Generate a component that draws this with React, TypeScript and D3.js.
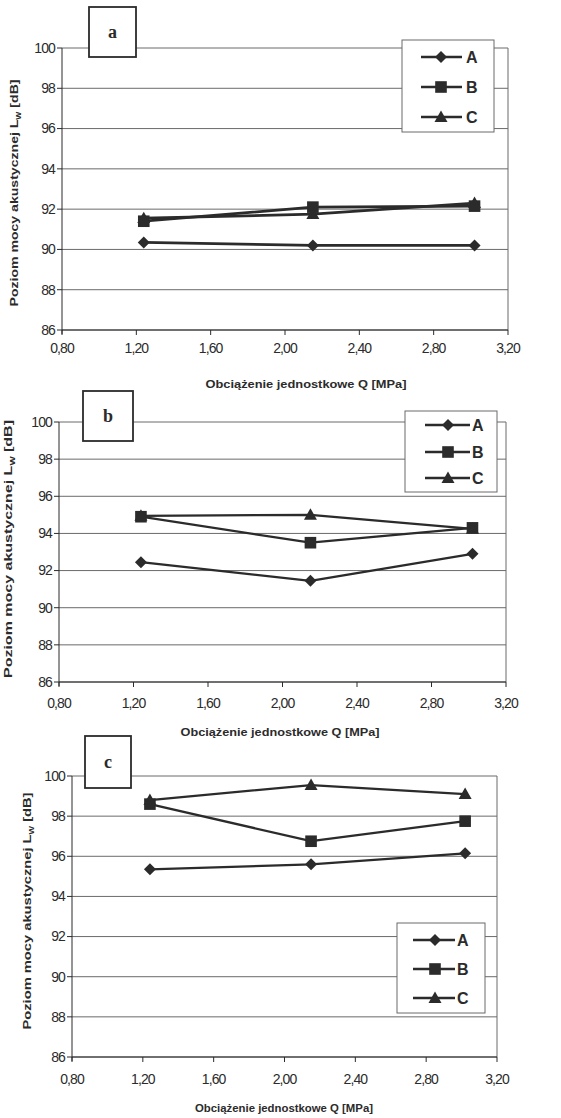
import React from "react";
import * as d3 from "d3";

const xValues = [1.24, 2.15, 3.02];
const xTicks = [0.8, 1.2, 1.6, 2.0, 2.4, 2.8, 3.2];
const yTicks = [86, 88, 90, 92, 94, 96, 98, 100];
const seriesNames = ["A", "B", "C"];
const panelLetters = ["a", "b", "c"];

const aA = [90.35, 90.2, 90.2];
const aB = [91.4, 92.1, 92.15];
const aC = [91.55, 91.75, 92.3];
const bA = [92.45, 91.45, 92.9];
const bB = [94.9, 93.5, 94.3];
const bC = [94.95, 95.0, 94.25];
const cA = [95.35, 95.6, 96.15];
const cB = [98.6, 96.75, 97.75];
const cC = [98.8, 99.55, 99.1];

const xTitle = "Obciążenie jednostkowe Q [MPa]";

const panelData = [
  [aA, aB, aC],
  [bA, bB, bC],
  [cA, cB, cC],
];

const layouts = [
  {
    left: 62, right: 508, top: 48, bottom: 330, tickY: 353, titleX: 306, titleY: 388, titleW: 201,
    yLabX: 18, yLabY: 193, yLabW: 227,
    box: { x: 89, y: 7, w: 47, h: 50 },
    legend: { x: 402, y: 40, w: 92, h: 92, l1: 421, l2: 462, m: 441, t: 466, rows: [57, 87, 117] },
    sw: 2.8,
  },
  {
    left: 59, right: 506, top: 422, bottom: 682, tickY: 708, titleX: 280, titleY: 736, titleW: 199,
    yLabX: 12, yLabY: 549, yLabW: 258,
    box: { x: 83, y: 391, w: 50, h: 50 },
    legend: { x: 405, y: 411, w: 92, h: 81, l1: 425, l2: 470, m: 448, t: 472, rows: [425, 452, 478] },
    sw: 2.3,
  },
  {
    left: 72, right: 497, top: 776, bottom: 1057, tickY: 1084, titleX: 284, titleY: 1112, titleW: 178,
    yLabX: 31, yLabY: 911, yLabW: 237,
    box: { x: 85, y: 736, w: 46, h: 52 },
    legend: { x: 397, y: 923, w: 88, h: 90, l1: 413, l2: 455, m: 435, t: 457, rows: [940, 969, 998] },
    sw: 2.3,
  },
];

const INK = "#2b2b2b";
const GRID = "#6a6a6a";

function Marker({ kind, x, y }: { kind: number; x: number; y: number }) {
  if (kind === 0) {
    const s = 6;
    return <path d={`M${x},${y - s}L${x + s},${y}L${x},${y + s}L${x - s},${y}Z`} fill={INK} />;
  }
  if (kind === 1) {
    const s = 5.8;
    return <rect x={x - s} y={y - s} width={2 * s} height={2 * s} fill={INK} />;
  }
  const s = 6.5;
  return <path d={`M${x},${y - s}L${x + s},${y + s * 0.75}L${x - s},${y + s * 0.75}Z`} fill={INK} />;
}

function Panel({ idx }: { idx: number }) {
  const L = layouts[idx];
  const data = panelData[idx];
  const x = d3.scaleLinear().domain([0.8, 3.2]).range([L.left, L.right]);
  const y = d3.scaleLinear().domain([86, 100]).range([L.bottom, L.top]);
  const line = d3
    .line<number>()
    .x((_, i) => x(xValues[i]))
    .y((d) => y(d));
  const fmt = (v: number) => v.toFixed(2).replace(".", ",");
  const lg = L.legend;
  return (
    <g>
      {yTicks.map((t) => (
        <line key={"g" + t} x1={L.left} x2={L.right} y1={y(t)} y2={y(t)} stroke={GRID} strokeWidth={1} />
      ))}
      <line x1={L.right} x2={L.right} y1={L.top} y2={L.bottom} stroke={GRID} strokeWidth={1} />
      <line x1={L.left} x2={L.left} y1={L.top} y2={L.bottom + 4} stroke={INK} strokeWidth={1} />
      <line x1={L.left} x2={L.right} y1={L.bottom} y2={L.bottom} stroke={INK} strokeWidth={1} />
      {yTicks.map((t) => (
        <g key={"yt" + t}>
          <line x1={L.left - 5} x2={L.left} y1={y(t)} y2={y(t)} stroke={INK} />
          <text x={L.left - 7} y={y(t)} dy="0.35em" textAnchor="end" fontSize={14} fill={INK}
            fontFamily="Liberation Sans, Arial, sans-serif" letterSpacing={-0.9}>
            {t}
          </text>
        </g>
      ))}
      {xTicks.map((t) => (
        <g key={"xt" + t}>
          <line x1={x(t)} x2={x(t)} y1={L.bottom} y2={L.bottom + 5} stroke={INK} />
          <text x={x(t)} y={L.tickY} textAnchor="middle" fontSize={14} fill={INK}
            fontFamily="Liberation Sans, Arial, sans-serif" letterSpacing={-0.9}>
            {fmt(t)}
          </text>
        </g>
      ))}
      <text x={L.titleX} y={L.titleY} textAnchor="middle" fontSize={11} fontWeight="bold" fill={INK}
        fontFamily="Liberation Sans, Arial, sans-serif" textLength={L.titleW} lengthAdjust="spacingAndGlyphs">
        {xTitle}
      </text>
      <text transform={`translate(${L.yLabX},${L.yLabY}) rotate(-90)`} textAnchor="middle" fontSize={11.5}
        fontWeight="bold" fill={INK} fontFamily="Liberation Sans, Arial, sans-serif"
        textLength={L.yLabW} lengthAdjust="spacingAndGlyphs">
        Poziom mocy akustycznej L<tspan fontSize={7} dy={3}>W</tspan>
        <tspan dy={-3}>{"  [dB]"}</tspan>
      </text>
      {data.map((s, si) => (
        <g key={"s" + si}>
          <path d={line(s) || ""} fill="none" stroke={INK} strokeWidth={L.sw} strokeLinejoin="round" />
          {s.map((v, i) => (
            <Marker key={i} kind={si} x={x(xValues[i])} y={y(v)} />
          ))}
        </g>
      ))}
      <rect x={L.box.x} y={L.box.y} width={L.box.w} height={L.box.h} fill="#fff" stroke={INK} strokeWidth={1.8} />
      <text x={L.box.x + L.box.w / 2} y={L.box.y + L.box.h / 2} dy="0.35em" textAnchor="middle" fontSize={18}
        fontWeight="bold" fill={INK} fontFamily="Liberation Serif, Times New Roman, serif">
        {panelLetters[idx]}
      </text>
      <rect x={lg.x} y={lg.y} width={lg.w} height={lg.h} fill="#fff" stroke={GRID} strokeWidth={1} />
      {seriesNames.map((n, si) => (
        <g key={"l" + n}>
          <line x1={lg.l1} x2={lg.l2} y1={lg.rows[si]} y2={lg.rows[si]} stroke={INK} strokeWidth={2.4} />
          <Marker kind={si} x={lg.m} y={lg.rows[si]} />
          <text x={lg.t} y={lg.rows[si]} dy="0.36em" fontSize={16} fontWeight="bold" fill={INK}
            fontFamily="Liberation Sans, Arial, sans-serif">
            {n}
          </text>
        </g>
      ))}
    </g>
  );
}

export default function App() {
  return (
    <svg width={561} height={1118} style={{ position: "absolute", left: 0, top: 0, background: "#fff" }}>
      <rect x={0} y={0} width={561} height={1118} fill="#fff" />
      {layouts.map((_, i) => (
        <Panel key={i} idx={i} />
      ))}
    </svg>
  );
}
